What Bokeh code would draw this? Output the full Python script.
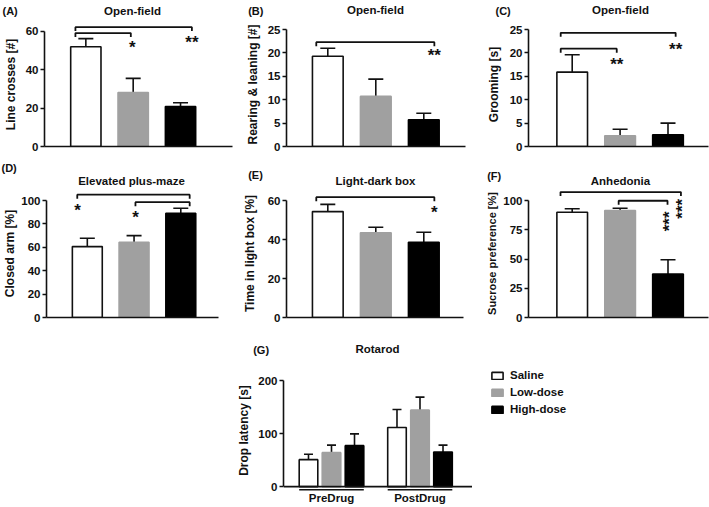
import math
from bokeh.plotting import figure
from bokeh.layouts import column, row
from bokeh.models import (Range1d, Whisker, TeeHead, ColumnDataSource,
                          Legend, LegendItem, FixedTicker, Span)
from bokeh.embed import file_html
from bokeh.resources import INLINE
from bokeh.core.properties import value

FONT = "Liberation Sans"
INK = "#111111"
GRAY = "#a0a0a0"
LW = 1.6

# ---------------- data ----------------
groups = ["Saline", "Low-dose", "High-dose"]
bar_fill = ["#ffffff", GRAY, "#000000"]
bar_edge = [INK, GRAY, "#000000"]

line_crosses = [52.0, 28.1, 20.8]
line_crosses_sem = [4.2, 7.4, 2.0]
rearing = [19.3, 10.7, 5.7]
rearing_sem = [1.7, 3.7, 1.4]
grooming = [15.9, 2.3, 2.5]
grooming_sem = [3.7, 1.4, 2.5]
closed_arm = [60.6, 64.3, 89.1]
closed_arm_sem = [7.1, 5.7, 4.3]
light_box = [54.3, 43.4, 38.6]
light_box_sem = [3.7, 2.9, 5.1]
sucrose = [90.0, 91.4, 37.1]
sucrose_sem = [2.9, 2.0, 12.3]

rotarod_phases = ["PreDrug", "PostDrug"]
rotarod_saline = [51.0, 111.7]
rotarod_saline_sem = [10.3, 33.9]
rotarod_low = [64.2, 144.4]
rotarod_low_sem = [14.3, 24.6]
rotarod_high = [77.4, 65.3]
rotarod_high_sem = [22.3, 13.2]

ticks_a = [0, 20, 40, 60]
ticks_b = [0, 5, 10, 15, 20, 25]
ticks_c = [0, 5, 10, 15, 20, 25]
ticks_d = [0, 20, 40, 60, 80, 100]
ticks_e = [0, 20, 40, 60]
ticks_f = [0, 25, 50, 75, 100]
ticks_g = [0, 100, 200]

panel_titles_top = ["Open-field", "Open-field", "Open-field"]
panel_tags_top = ["(A)", "(B)", "(C)"]
panel_titles_mid = ["Elevated plus-maze", "Light-dark box", "Anhedonia"]
panel_tags_mid = ["(D)", "(E)", "(F)"]
panel_titles_bottom = ["Rotarod"]
panel_tags_bottom = ["(G)"]

# significance brackets (from, to, height) and stars (text, x, y, angle)
brackets_a = [(0.78, 3.24, 62.2), (0.78, 1.95, 59.1)]
stars_a = [("*", 1.98, 52.8, 0), ("**", 3.24, 55.4, 0)]
brackets_b = [(0.76, 3.22, 22.3)]
stars_b = [("**", 3.22, 20.0, 0)]
brackets_c = [(0.76, 3.16, 24.3), (0.76, 1.93, 20.9)]
stars_c = [("**", 1.93, 18.0, 0), ("**", 3.16, 21.2, 0)]
brackets_d = [(0.785, 3.19, 105.0), (2.03, 3.19, 98.6)]
stars_d = [("*", 0.79, 93.2, 0), ("*", 2.03, 88.0, 0)]
brackets_e = [(0.76, 3.22, 61.7)]
stars_e = [("*", 3.22, 54.9, 0)]
brackets_f = [(0.756, 3.27, 107.2), (1.97, 2.99, 99.8)]
stars_f = [("***", 2.98, 82.2, 90), ("***", 3.25, 92.9, 90)]

STAR_LIFT = 2.5  # px between text anchor and the visual centre of "*"


def base_fig(**kw):
    p = figure(output_backend="svg", toolbar_location=None, **kw)
    p.outline_line_color = None
    p.background_fill_color = "white"
    p.border_fill_color = "white"
    return p


def style_y(p, ticks, ylabel, standoff, label_size="12px"):
    p.grid.visible = False
    ya = p.yaxis[0]
    ya.ticker = FixedTicker(ticks=ticks)
    ya.bounds = (ticks[0], ticks[-1])
    ya.axis_label = ylabel
    ya.axis_label_standoff = standoff
    ya.axis_label_text_font = FONT
    ya.axis_label_text_font_style = "bold"
    ya.axis_label_text_font_size = label_size
    ya.axis_label_text_color = INK
    ya.major_label_text_font = FONT
    ya.major_label_text_font_style = "bold"
    ya.major_label_text_font_size = "11.5px"
    ya.major_label_text_color = INK
    ya.major_label_standoff = 2
    ya.major_tick_out = 4
    ya.major_tick_in = 0
    ya.minor_tick_line_color = None
    ya.minor_tick_out = 0
    ya.axis_line_width = LW
    ya.major_tick_line_width = LW
    ya.axis_line_color = INK
    ya.major_tick_line_color = INK


def header(y_top, y_bottom, titles, title_x, title_y, tags, tag_x, tag_y):
    h = base_fig(width=709, height=y_bottom - y_top, x_range=Range1d(0, 709),
                 y_range=Range1d(y_bottom, y_top), x_axis_type=None, y_axis_type=None,
                 min_border=0)
    h.text(x=title_x, y=title_y, text=titles, text_align="center", text_baseline="middle",
           text_font=value(FONT), text_font_style="bold", text_font_size="11.5px",
           text_color=INK)
    h.text(x=tag_x, y=tag_y, text=tags, text_align="left", text_baseline="middle",
           text_font=value(FONT), text_font_style="bold", text_font_size="11px",
           text_color=INK)
    return h


def bar_panel(fig_box, frame_box, top_px, c1_px, dx_px, ticks, vals, sems, ylabel,
              lab_standoff, brackets, stars, label_size="12px"):
    fx, fy, fw, fh = fig_box
    fl, ft, fr, fb = frame_box
    top = ticks[-1]
    ppy = (fb - top_px) / top
    x0 = 1 - (c1_px - fl) / dx_px
    x1 = 1 + (fr - c1_px) / dx_px
    y1 = top + (top_px - ft) / ppy
    p = base_fig(width=fw, height=fh, x_range=Range1d(x0, x1), y_range=Range1d(0, y1),
                 min_border_left=fl - fx, min_border_right=fx + fw - fr,
                 min_border_top=ft - fy, min_border_bottom=fy + fh - fb)
    style_y(p, ticks, ylabel, lab_standoff, label_size)
    xa = p.xaxis[0]
    xa.ticker = FixedTicker(ticks=[])
    xa.major_tick_out = 0
    xa.major_tick_in = 0
    xa.minor_tick_out = 0
    xa.minor_tick_in = 0
    xa.major_tick_line_color = None
    xa.minor_tick_line_color = None
    xa.axis_line_width = LW
    xa.axis_line_color = INK
    xa.major_label_standoff = 0

    src = ColumnDataSource(dict(x=[1, 2, 3], top=vals,
                                upper=[v + s for v, s in zip(vals, sems)],
                                fill=bar_fill, edge=bar_edge))
    p.vbar(x="x", top="top", bottom=0, width=0.64, fill_color="fill",
           line_color="edge", line_width=LW, source=src)
    p.add_layout(Whisker(source=src, base="x", lower="top", upper="upper",
                         dimension="height", line_color=INK, line_width=LW,
                         upper_head=TeeHead(size=15, line_color=INK, line_width=LW),
                         lower_head=None))
    tick = 4 / ppy
    for a, b, yb in brackets:
        p.line([a, a, b, b], [yb - tick, yb, yb, yb - tick], line_color=INK, line_width=1.8)
    for txt, sx, sy, ang in stars:
        if ang:
            tx, ty = sx + STAR_LIFT / dx_px, sy
        else:
            tx, ty = sx, sy - STAR_LIFT / ppy
        p.text(x=[tx], y=[ty], text=[txt], angle=[math.radians(ang)],
               text_font=value(FONT), text_font_style="bold", text_font_size="17px",
               text_align="center", text_baseline="middle", text_color=INK)
    return p


h1 = header(0, 22, panel_titles_top, [132, 375, 620], [10.8, 9.8, 9.8],
            panel_tags_top, [2, 247.7, 495], [10.8, 10.8, 10.0])
pa = bar_panel((0, 22, 235, 138), (41, 22, 232, 148), 31.0, 83.0, 48.1, ticks_a,
               line_crosses, line_crosses_sem, "Line crosses [#]", 5, brackets_a, stars_a)
pb = bar_panel((235, 22, 235, 138), (286, 22, 465, 146), 29.0, 327.3, 48.0, ticks_b,
               rearing, rearing_sem, "Rearing & leaning [#]", 5, brackets_b, stars_b)
pc = bar_panel((470, 22, 239, 138), (528, 22, 708, 146), 29.0, 571.7, 47.9, ticks_c,
               grooming, grooming_sem, "Grooming [s]", 6, brackets_c, stars_c)

h2 = header(160, 189, panel_titles_mid, [131, 375, 620], [180.3, 180.3, 180.0],
            panel_tags_mid, [1, 247.7, 486.7], [167.8, 174.0, 175.0])
pd = bar_panel((0, 189, 235, 133), (41, 189, 218, 317), 200.0, 83.0, 48.1, ticks_d,
               closed_arm, closed_arm_sem, "Closed arm [%]", 1, brackets_d, stars_d)
pe = bar_panel((235, 189, 235, 133), (286, 189, 463, 317), 200.0, 327.3, 48.0, ticks_e,
               light_box, light_box_sem, "Time in light box [%]", 8, brackets_e, stars_e)
pf = bar_panel((470, 189, 239, 133), (528, 189, 708, 317), 200.0, 571.7, 47.9, ticks_f,
               sucrose, sucrose_sem, "Sucrose preference [%]", 2, brackets_f, stars_f,
               label_size="11px")

h3 = header(322, 357, panel_titles_bottom, [377], [348.7],
            panel_tags_bottom, [252.7], [349.0])

# ---------------- panel G ----------------
fxg, fyg, fwg, fhg = 0, 357, 472, 150
gl, gt, gr, gb = 283, 357, 472, 491
g_zero_px, g_top_px = 485.7, 369.3
g_c1_px, g_dx_px = 331.0, 88.5
ppg = (g_zero_px - g_top_px) / ticks_g[-1]
gx0 = 1 - (g_c1_px - gl) / g_dx_px
gx1 = 1 + (gr - g_c1_px) / g_dx_px
gy0 = -(gb - g_zero_px) / ppg
gy1 = ticks_g[-1] + (g_top_px - gt) / ppg

pg = base_fig(width=fwg, height=fhg, x_range=Range1d(gx0, gx1), y_range=Range1d(gy0, gy1),
              min_border_left=gl - fxg, min_border_right=fxg + fwg - gr,
              min_border_top=gt - fyg, min_border_bottom=fyg + fhg - gb)
style_y(pg, ticks_g, "Drop latency [s]", 4)
xg = pg.xaxis[0]
xg.ticker = FixedTicker(ticks=[1, 2])
xg.major_label_overrides = {i + 1: ph for i, ph in enumerate(rotarod_phases)}
xg.axis_line_color = None
xg.major_tick_line_color = None
xg.minor_tick_line_color = None
xg.major_tick_out = 0
xg.major_tick_in = 0
xg.minor_tick_out = 0
xg.major_label_standoff = 0
xg.major_label_text_font = FONT
xg.major_label_text_font_style = "bold"
xg.major_label_text_font_size = "11.5px"
xg.major_label_text_color = INK

offsets = [-0.26, 0.0, 0.26]
series = [(rotarod_saline, rotarod_saline_sem), (rotarod_low, rotarod_low_sem),
          (rotarod_high, rotarod_high_sem)]
g_sources = []
for i, (vals, sems) in enumerate(series):
    xs = [k + 1 + offsets[i] for k in range(len(rotarod_phases))]
    src = ColumnDataSource(dict(x=xs, top=vals, upper=[v + s for v, s in zip(vals, sems)]))
    pg.vbar(x="x", top="top", bottom=0, width=0.21, fill_color=bar_fill[i],
            line_color=bar_edge[i], line_width=LW, source=src)
    pg.add_layout(Whisker(source=src, base="x", lower="top", upper="upper",
                          dimension="height", line_color=INK, line_width=LW,
                          upper_head=TeeHead(size=9, line_color=INK, line_width=LW),
                          lower_head=None))
    g_sources.append(src)

pg.add_layout(Span(location=0, dimension="width", line_color=INK, line_width=LW))
under_y = gy0 + (gb - 489.0) / ppg
for k in range(len(rotarod_phases)):
    pg.line([k + 1 - 0.365, k + 1 + 0.365], [under_y, under_y], line_color=INK, line_width=LW)

# ---------------- legend (own canvas, right of panel G) ----------------
pleg = base_fig(width=237, height=150, x_range=Range1d(gx0, gx1), y_range=Range1d(gy0, gy1),
                x_axis_type=None, y_axis_type=None,
                min_border_left=18, min_border_top=12, min_border_right=0, min_border_bottom=0)
pleg.grid.visible = False
leg_renderers = []
for i, src in enumerate(g_sources):
    r = pleg.vbar(x="x", top="top", bottom=0, width=0.21, fill_color=bar_fill[i],
                  line_color=bar_edge[i], line_width=LW, source=src)
    r.visible = False
    leg_renderers.append(r)
legend = Legend(items=[LegendItem(label=value(g), renderers=[r]) for g, r in zip(groups, leg_renderers)],
                location="top_left", orientation="vertical", click_policy="none",
                glyph_width=14, glyph_height=9, label_height=9, spacing=5,
                padding=0, margin=0, label_standoff=6,
                border_line_color=None, background_fill_alpha=0, inactive_fill_alpha=0,
                label_text_font=FONT, label_text_font_style="bold",
                label_text_font_size="11.5px", label_text_color=INK)
pleg.add_layout(legend)

layout = column(h1, row(pa, pb, pc), h2, row(pd, pe, pf), h3, row(pg, pleg))
open("out.html", "w").write(file_html(layout, INLINE))
